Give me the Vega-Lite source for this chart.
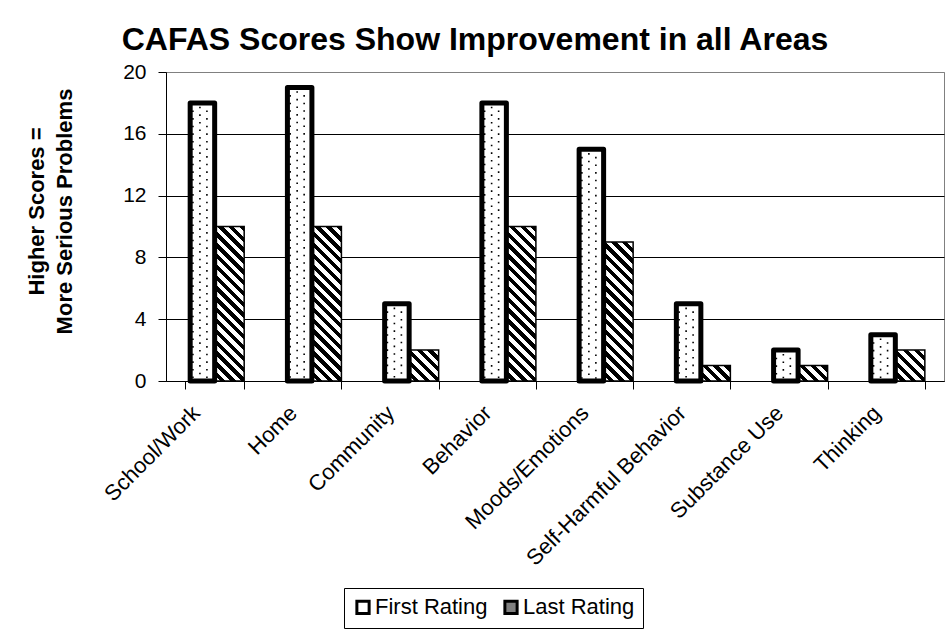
{
  "$schema": "https://vega.github.io/schema/vega-lite/v6.json",
  "width": 778,
  "height": 309,
  "autosize": {"type": "none"},
  "padding": {"left": 166, "top": 72, "right": 7, "bottom": 252},
  "background": "white",
  "title": {"text": "CAFAS Scores Show Improvement in all Areas", "fontSize": 32, "fontWeight": "bold", "color": "black", "anchor": "middle", "frame": "group", "dx": -80, "offset": 4},
  "data": {"values": [
    {"category": "School/Work", "series": "First Rating", "score": 18},
    {"category": "School/Work", "series": "Last Rating", "score": 10},
    {"category": "Home", "series": "First Rating", "score": 19},
    {"category": "Home", "series": "Last Rating", "score": 10},
    {"category": "Community", "series": "First Rating", "score": 5},
    {"category": "Community", "series": "Last Rating", "score": 2},
    {"category": "Behavior", "series": "First Rating", "score": 18},
    {"category": "Behavior", "series": "Last Rating", "score": 10},
    {"category": "Moods/Emotions", "series": "First Rating", "score": 15},
    {"category": "Moods/Emotions", "series": "Last Rating", "score": 9},
    {"category": "Self-Harmful Behavior", "series": "First Rating", "score": 5},
    {"category": "Self-Harmful Behavior", "series": "Last Rating", "score": 1},
    {"category": "Substance Use", "series": "First Rating", "score": 2},
    {"category": "Substance Use", "series": "Last Rating", "score": 1},
    {"category": "Thinking", "series": "First Rating", "score": 3},
    {"category": "Thinking", "series": "Last Rating", "score": 2}
  ]},
  "encoding": {
    "x": {"field": "category", "type": "nominal", "sort": null, "title": null,
      "scale": {"paddingInner": 0.393, "paddingOuter": 0.197},
      "axis": {"labelAngle": -45, "labelFontSize": 22, "labelLimit": 0, "labelOffset": -26, "tickSize": 8, "tickBand": "extent", "domainColor": "black", "tickColor": "black", "labelColor": "black", "labelPadding": 13, "grid": false}},
    "y": {"field": "score", "type": "quantitative", "scale": {"domain": [0, 20], "nice": false},
      "title": ["Higher Scores =", "More Serious Problems"],
      "axis": {"values": [0, 4, 8, 12, 16, 20], "grid": true,
        "gridColor": {"condition": {"test": "datum.value == 20", "value": "#808080"}, "value": "black"},
        "domainColor": "black", "tickColor": "black", "tickSize": 8, "labelFontSize": 21, "labelPadding": 12, "labelColor": "black",
        "titleFontSize": 22, "titleFontWeight": "bold", "titleColor": "black", "titlePadding": 46, "titleLineHeight": 28, "titleY": 139}}
  },
  "layer": [
    {
      "transform": [{"filter": "datum.series == 'Last Rating'"}],
      "mark": {"type": "bar", "stroke": "black", "strokeWidth": 1.5},
      "encoding": {
        "xOffset": {"field": "series", "type": "nominal", "scale": {"domain": ["First Rating", "Last Rating"], "paddingInner": 0, "paddingOuter": 0}},
        "fill": {
          "condition": [
            {"test": "datum.score == 10", "value": {"gradient": "linear", "x1": 0, "y1": 1, "x2": 0.2194, "y2": -0.14905, "stops": [
              {"offset":0,"color":"#fff"},{"offset":0.0294,"color":"#fff"},{"offset":0.0294,"color":"#000"},{"offset":0.0588,"color":"#000"},{"offset":0.0588,"color":"#fff"},{"offset":0.0882,"color":"#fff"},{"offset":0.0882,"color":"#000"},{"offset":0.1176,"color":"#000"},{"offset":0.1176,"color":"#fff"},{"offset":0.1471,"color":"#fff"},{"offset":0.1471,"color":"#000"},{"offset":0.1765,"color":"#000"},{"offset":0.1765,"color":"#fff"},{"offset":0.2059,"color":"#fff"},{"offset":0.2059,"color":"#000"},{"offset":0.2353,"color":"#000"},{"offset":0.2353,"color":"#fff"},{"offset":0.2647,"color":"#fff"},{"offset":0.2647,"color":"#000"},{"offset":0.2941,"color":"#000"},{"offset":0.2941,"color":"#fff"},{"offset":0.3235,"color":"#fff"},{"offset":0.3235,"color":"#000"},{"offset":0.3529,"color":"#000"},{"offset":0.3529,"color":"#fff"},{"offset":0.3824,"color":"#fff"},{"offset":0.3824,"color":"#000"},{"offset":0.4118,"color":"#000"},{"offset":0.4118,"color":"#fff"},{"offset":0.4412,"color":"#fff"},{"offset":0.4412,"color":"#000"},{"offset":0.4706,"color":"#000"},{"offset":0.4706,"color":"#fff"},{"offset":0.5,"color":"#fff"},{"offset":0.5,"color":"#000"},{"offset":0.5294,"color":"#000"},{"offset":0.5294,"color":"#fff"},{"offset":0.5588,"color":"#fff"},{"offset":0.5588,"color":"#000"},{"offset":0.5882,"color":"#000"},{"offset":0.5882,"color":"#fff"},{"offset":0.6176,"color":"#fff"},{"offset":0.6176,"color":"#000"},{"offset":0.6471,"color":"#000"},{"offset":0.6471,"color":"#fff"},{"offset":0.6765,"color":"#fff"},{"offset":0.6765,"color":"#000"},{"offset":0.7059,"color":"#000"},{"offset":0.7059,"color":"#fff"},{"offset":0.7353,"color":"#fff"},{"offset":0.7353,"color":"#000"},{"offset":0.7647,"color":"#000"},{"offset":0.7647,"color":"#fff"},{"offset":0.7941,"color":"#fff"},{"offset":0.7941,"color":"#000"},{"offset":0.8235,"color":"#000"},{"offset":0.8235,"color":"#fff"},{"offset":0.8529,"color":"#fff"},{"offset":0.8529,"color":"#000"},{"offset":0.8824,"color":"#000"},{"offset":0.8824,"color":"#fff"},{"offset":0.9118,"color":"#fff"},{"offset":0.9118,"color":"#000"},{"offset":0.9412,"color":"#000"},{"offset":0.9412,"color":"#fff"},{"offset":0.9706,"color":"#fff"},{"offset":0.9706,"color":"#000"},{"offset":1,"color":"#000"}]}},
            {"test": "datum.score == 9", "value": {"gradient": "linear", "x1": 0, "y1": 1, "x2": 0.26864, "y2": -0.26627, "stops": [
              {"offset":0,"color":"#fff"},{"offset":0.0294,"color":"#fff"},{"offset":0.0294,"color":"#000"},{"offset":0.0588,"color":"#000"},{"offset":0.0588,"color":"#fff"},{"offset":0.0882,"color":"#fff"},{"offset":0.0882,"color":"#000"},{"offset":0.1176,"color":"#000"},{"offset":0.1176,"color":"#fff"},{"offset":0.1471,"color":"#fff"},{"offset":0.1471,"color":"#000"},{"offset":0.1765,"color":"#000"},{"offset":0.1765,"color":"#fff"},{"offset":0.2059,"color":"#fff"},{"offset":0.2059,"color":"#000"},{"offset":0.2353,"color":"#000"},{"offset":0.2353,"color":"#fff"},{"offset":0.2647,"color":"#fff"},{"offset":0.2647,"color":"#000"},{"offset":0.2941,"color":"#000"},{"offset":0.2941,"color":"#fff"},{"offset":0.3235,"color":"#fff"},{"offset":0.3235,"color":"#000"},{"offset":0.3529,"color":"#000"},{"offset":0.3529,"color":"#fff"},{"offset":0.3824,"color":"#fff"},{"offset":0.3824,"color":"#000"},{"offset":0.4118,"color":"#000"},{"offset":0.4118,"color":"#fff"},{"offset":0.4412,"color":"#fff"},{"offset":0.4412,"color":"#000"},{"offset":0.4706,"color":"#000"},{"offset":0.4706,"color":"#fff"},{"offset":0.5,"color":"#fff"},{"offset":0.5,"color":"#000"},{"offset":0.5294,"color":"#000"},{"offset":0.5294,"color":"#fff"},{"offset":0.5588,"color":"#fff"},{"offset":0.5588,"color":"#000"},{"offset":0.5882,"color":"#000"},{"offset":0.5882,"color":"#fff"},{"offset":0.6176,"color":"#fff"},{"offset":0.6176,"color":"#000"},{"offset":0.6471,"color":"#000"},{"offset":0.6471,"color":"#fff"},{"offset":0.6765,"color":"#fff"},{"offset":0.6765,"color":"#000"},{"offset":0.7059,"color":"#000"},{"offset":0.7059,"color":"#fff"},{"offset":0.7353,"color":"#fff"},{"offset":0.7353,"color":"#000"},{"offset":0.7647,"color":"#000"},{"offset":0.7647,"color":"#fff"},{"offset":0.7941,"color":"#fff"},{"offset":0.7941,"color":"#000"},{"offset":0.8235,"color":"#000"},{"offset":0.8235,"color":"#fff"},{"offset":0.8529,"color":"#fff"},{"offset":0.8529,"color":"#000"},{"offset":0.8824,"color":"#000"},{"offset":0.8824,"color":"#fff"},{"offset":0.9118,"color":"#fff"},{"offset":0.9118,"color":"#000"},{"offset":0.9412,"color":"#000"},{"offset":0.9412,"color":"#fff"},{"offset":0.9706,"color":"#fff"},{"offset":0.9706,"color":"#000"},{"offset":1,"color":"#000"}]}},
            {"test": "datum.score == 2", "value": {"gradient": "linear", "x1": 0, "y1": 1, "x2": 2.97415, "y2": -2.11529, "stops": [
              {"offset":0,"color":"#fff"},{"offset":0.0294,"color":"#fff"},{"offset":0.0294,"color":"#000"},{"offset":0.0588,"color":"#000"},{"offset":0.0588,"color":"#fff"},{"offset":0.0882,"color":"#fff"},{"offset":0.0882,"color":"#000"},{"offset":0.1176,"color":"#000"},{"offset":0.1176,"color":"#fff"},{"offset":0.1471,"color":"#fff"},{"offset":0.1471,"color":"#000"},{"offset":0.1765,"color":"#000"},{"offset":0.1765,"color":"#fff"},{"offset":0.2059,"color":"#fff"},{"offset":0.2059,"color":"#000"},{"offset":0.2353,"color":"#000"},{"offset":0.2353,"color":"#fff"},{"offset":0.2647,"color":"#fff"},{"offset":0.2647,"color":"#000"},{"offset":0.2941,"color":"#000"},{"offset":0.2941,"color":"#fff"},{"offset":0.3235,"color":"#fff"},{"offset":0.3235,"color":"#000"},{"offset":0.3529,"color":"#000"},{"offset":0.3529,"color":"#fff"},{"offset":0.3824,"color":"#fff"},{"offset":0.3824,"color":"#000"},{"offset":0.4118,"color":"#000"}]}},
            {"test": "datum.score == 1", "value": {"gradient": "linear", "x1": 0, "y1": 1, "x2": 4.89472, "y2": -1.56351, "stops": [
              {"offset":0,"color":"#fff"},{"offset":0.0294,"color":"#fff"},{"offset":0.0294,"color":"#000"},{"offset":0.0588,"color":"#000"},{"offset":0.0588,"color":"#fff"},{"offset":0.0882,"color":"#fff"},{"offset":0.0882,"color":"#000"},{"offset":0.1176,"color":"#000"},{"offset":0.1176,"color":"#fff"},{"offset":0.1471,"color":"#fff"},{"offset":0.1471,"color":"#000"},{"offset":0.1765,"color":"#000"},{"offset":0.1765,"color":"#fff"},{"offset":0.2059,"color":"#fff"},{"offset":0.2059,"color":"#000"},{"offset":0.2353,"color":"#000"},{"offset":0.2353,"color":"#fff"},{"offset":0.2647,"color":"#fff"},{"offset":0.2647,"color":"#000"},{"offset":0.2941,"color":"#000"}]}}
          ],
          "field": "series", "type": "nominal",
          "scale": {"domain": ["First Rating", "Last Rating"], "range": ["#ffffff", "#808080"]},
          "legend": {"orient": "none", "legendX": 178, "legendY": 516, "direction": "horizontal", "title": null, "labelFontSize": 22, "labelColor": "black", "labelOffset": 1, "symbolType": "square", "symbolSize": 150, "symbolStrokeColor": "black", "symbolStrokeWidth": 3, "strokeColor": "black", "padding": 8, "columnPadding": 10}
        }
      }
    },
    {
      "transform": [{"filter": "datum.series == 'First Rating'"}],
      "mark": {"type": "bar", "stroke": "black", "strokeWidth": 5, "strokeJoin": "round", "width": {"band": 0.83}},
      "encoding": {
        "xOffset": {"field": "series", "type": "nominal", "scale": {"domain": ["First Rating", "Last Rating"], "paddingInner": 0, "paddingOuter": 0}},
        "fill": {"field": "series", "type": "nominal", "scale": {"domain": ["First Rating", "Last Rating"], "range": ["#ffffff", "#808080"]}}
      }
    },
    {
      "transform": [{"filter": "datum.series == 'First Rating'"}],
      "mark": {"type": "rule", "xOffset": -21.75, "strokeDash": [1.6, 6], "strokeWidth": 1.6, "color": "black"},
      "encoding": {"y2": {"datum": 0}}
    },
    {
      "transform": [{"filter": "datum.series == 'First Rating'"}],
      "mark": {"type": "rule", "xOffset": -14.75, "strokeDash": [1.6, 6], "strokeDashOffset": 3.8, "strokeWidth": 1.6, "color": "black"},
      "encoding": {"y2": {"datum": 0}}
    },
    {
      "transform": [{"filter": "datum.series == 'First Rating'"}],
      "mark": {"type": "rule", "xOffset": -7.75, "strokeDash": [1.6, 6], "strokeWidth": 1.6, "color": "black"},
      "encoding": {"y2": {"datum": 0}}
    }
  ],
  "config": {
    "font": "Liberation Sans",
    "view": {"stroke": "#808080", "strokeWidth": 1}
  }
}
